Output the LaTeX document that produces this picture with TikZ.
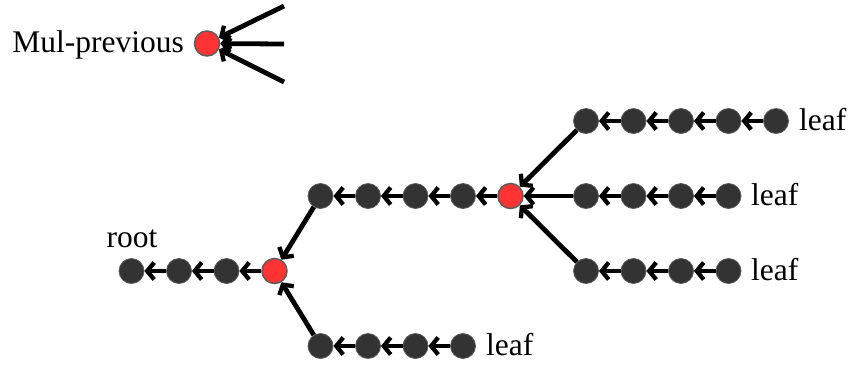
\documentclass[tikz,border=0pt]{standalone}
\usepackage{fontspec}
\setmainfont{Liberation Serif}
\usetikzlibrary{arrows.meta}
\definecolor{nodegray}{HTML}{333333}
\definecolor{rimgray}{HTML}{5A5A5A}
\definecolor{redfill}{HTML}{FF3333}
\begin{document}
\begin{tikzpicture}[x=1pt,y=-1pt,
  dot/.style={circle,fill=nodegray,draw=rimgray,line width=0.8pt,minimum size=25pt,inner sep=0pt},
  mul/.style={circle,fill=redfill,draw=nodegray!80,line width=1.5pt,minimum size=25pt,inner sep=0pt},
  arr/.style={line width=4.8pt,-{Straight Barb[length=7pt,width=17pt,line width=4.3pt]}},
  txt/.style={font=\fontsize{31.5}{37}\selectfont,inner sep=0pt}]
\useasboundingbox (0,0) rectangle (848,365);
% legend
\node[mul] (m) at (207,43.5) {};
\node[txt,anchor=base east] (mt) at (184,52.5) {Mul-previous};
\coordinate (i1) at (284,6);
\coordinate (i2) at (284,44);
\coordinate (i3) at (284,82);
\draw[arr] (i1) -- (m);
\draw[arr] (i2) -- (m);
\draw[arr] (i3) -- (m);
% root chain
\node[dot] (r1) at (131.5,271) {};
\node[dot] (r2) at (179,271) {};
\node[dot] (r3) at (226.5,271) {};
\node[mul] (r4) at (274.5,271) {};
\node[txt,anchor=base] (rt) at (132,247) {root};
\draw[arr] (r2) -- (r1);
\draw[arr] (r3) -- (r2);
\draw[arr] (r4) -- (r3);
% bottom chain
\node[dot] (b1) at (320.5,346) {};
\node[dot] (b2) at (368,346) {};
\node[dot] (b3) at (415.5,346) {};
\node[dot] (b4) at (463,346) {};
\node[txt,anchor=base west] (bt) at (486,355.5) {leaf};
\draw[arr] (b2) -- (b1);
\draw[arr] (b3) -- (b2);
\draw[arr] (b4) -- (b3);
\draw[arr] (b1) -- (r4);
% middle chain
\node[dot] (c1) at (320.5,196) {};
\node[dot] (c2) at (368,196) {};
\node[dot] (c3) at (415.5,196) {};
\node[dot] (c4) at (463,196) {};
\node[mul] (c5) at (510.5,196) {};
\draw[arr] (c2) -- (c1);
\draw[arr] (c3) -- (c2);
\draw[arr] (c4) -- (c3);
\draw[arr] (c5) -- (c4);
\draw[arr] (c1) -- (r4);
% upper leaf chain
\node[dot] (u1) at (586,121) {};
\node[dot] (u2) at (633.5,121) {};
\node[dot] (u3) at (681,121) {};
\node[dot] (u4) at (728.5,121) {};
\node[dot] (u5) at (776,121) {};
\node[txt,anchor=base west] (ut) at (799,130.5) {leaf};
\draw[arr] (u2) -- (u1);
\draw[arr] (u3) -- (u2);
\draw[arr] (u4) -- (u3);
\draw[arr] (u5) -- (u4);
\draw[arr] (u1) -- (c5);
% middle leaf chain
\node[dot] (v1) at (586,196) {};
\node[dot] (v2) at (633.5,196) {};
\node[dot] (v3) at (681,196) {};
\node[dot] (v4) at (728.5,196) {};
\node[txt,anchor=base west] (vt) at (751,205.5) {leaf};
\draw[arr] (v2) -- (v1);
\draw[arr] (v3) -- (v2);
\draw[arr] (v4) -- (v3);
\draw[arr] (v1) -- (c5);
% lower leaf chain
\node[dot] (w1) at (586,271) {};
\node[dot] (w2) at (633.5,271) {};
\node[dot] (w3) at (681,271) {};
\node[dot] (w4) at (728.5,271) {};
\node[txt,anchor=base west] (wt) at (751,280.5) {leaf};
\draw[arr] (w2) -- (w1);
\draw[arr] (w3) -- (w2);
\draw[arr] (w4) -- (w3);
\draw[arr] (w1) -- (c5);
\end{tikzpicture}
\end{document}
